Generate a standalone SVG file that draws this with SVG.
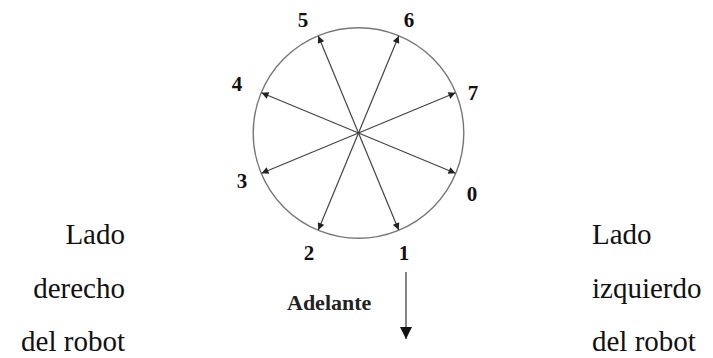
<svg xmlns="http://www.w3.org/2000/svg" width="713" height="358" viewBox="0 0 713 358">
<defs>
<marker id="ah" viewBox="0 0 10 10" refX="10" refY="5" markerWidth="8" markerHeight="7" markerUnits="userSpaceOnUse" orient="auto"><path d="M0,0 L10,5 L0,10 z" fill="#222"/></marker>
<marker id="ah2" viewBox="0 0 10 10" refX="10" refY="5" markerWidth="12" markerHeight="14" markerUnits="userSpaceOnUse" orient="auto"><path d="M0,0 L10,5 L0,10 z" fill="#111"/></marker>
<style>
.num{font-family:"Liberation Serif",serif;font-weight:bold;font-size:21px;fill:#111;text-anchor:middle}
.side{font-family:"Liberation Serif",serif;font-size:29px;fill:#111}
.arr{stroke:#444;stroke-width:1.2;fill:none;marker-end:url(#ah)}
</style>
</defs>
<rect width="713" height="358" fill="#fff"/>
<g id="circle"><circle cx="358.5" cy="133" r="105.3" fill="none" stroke="#777" stroke-width="1.4"/></g>
<g id="connectors">
<line class="arr" x1="358.5" y1="133" x2="455.5" y2="173.2"/>
<line class="arr" x1="358.5" y1="133" x2="455.5" y2="92.8"/>
<line class="arr" x1="358.5" y1="133" x2="398.7" y2="36"/>
<line class="arr" x1="358.5" y1="133" x2="318.3" y2="36"/>
<line class="arr" x1="358.5" y1="133" x2="261.5" y2="92.8"/>
<line class="arr" x1="358.5" y1="133" x2="261.5" y2="173.2"/>
<line class="arr" x1="358.5" y1="133" x2="318.3" y2="230"/>
<line class="arr" x1="358.5" y1="133" x2="398.7" y2="230"/>
<line x1="406" y1="272" x2="406" y2="339" stroke="#444" stroke-width="1.3" marker-end="url(#ah2)"/>
</g>
<g id="n0"><text class="num" x="472" y="201">0</text></g>
<g id="n1"><text class="num" x="404" y="260">1</text></g>
<g id="n2"><text class="num" x="309" y="260">2</text></g>
<g id="n3"><text class="num" x="242" y="188">3</text></g>
<g id="n4"><text class="num" x="237" y="91">4</text></g>
<g id="n5"><text class="num" x="303" y="27">5</text></g>
<g id="n6"><text class="num" x="409" y="27">6</text></g>
<g id="n7"><text class="num" x="473" y="100">7</text></g>
<g id="adelante"><text x="287" y="310" font-family="Liberation Serif, serif" font-weight="bold" font-size="22" fill="#222">Adelante</text></g>
<g id="left">
<text class="side" x="125" y="244" text-anchor="end">Lado</text>
<text class="side" x="125" y="298" text-anchor="end">derecho</text>
<text class="side" x="125" y="351" text-anchor="end">del robot</text>
</g>
<g id="right">
<text class="side" x="592" y="244">Lado</text>
<text class="side" x="592" y="298">izquierdo</text>
<text class="side" x="592" y="351">del robot</text>
</g>
</svg>
